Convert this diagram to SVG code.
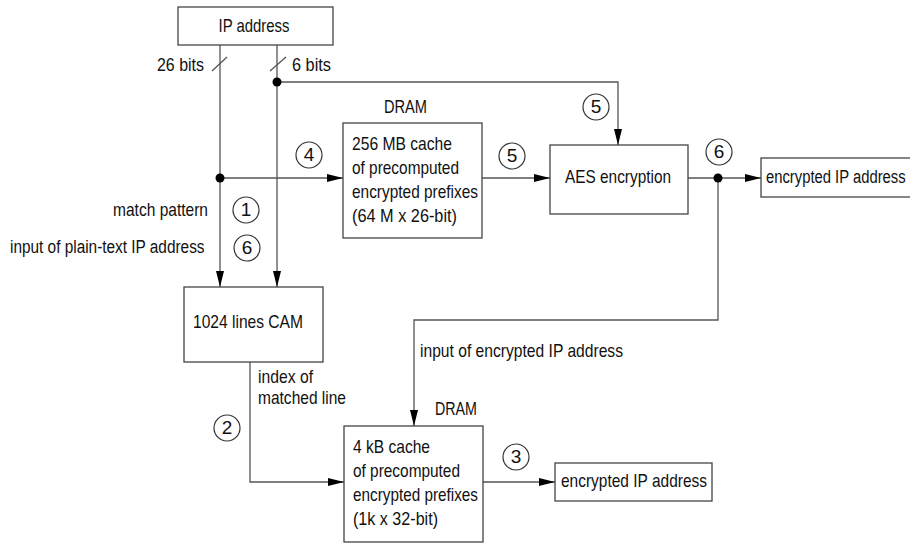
<svg xmlns="http://www.w3.org/2000/svg" width="910" height="543" viewBox="0 0 910 543">
<defs>
<marker id="arr" viewBox="0 0 16 10" refX="16" refY="5" markerWidth="16" markerHeight="10" markerUnits="userSpaceOnUse" orient="auto">
<path d="M0,1 L16,5 L0,9 Z" fill="#000"/>
</marker>
</defs>
<style>
text{font-family:"Liberation Sans Narrow","Liberation Sans",Arial,sans-serif;font-size:19px;fill:#111}
.box{fill:#fff;stroke:#444;stroke-width:1.3}
.ln{fill:none;stroke:#555;stroke-width:1.3}
.ar{marker-end:url(#arr)}
.c{fill:#fff;stroke:#333;stroke-width:1.2}
.dot{fill:#000}
.n{text-anchor:middle}
</style>
<rect width="910" height="543" fill="#fff"/>
<g id="connectors">
<path class="ln ar" d="M220,45 V287"/>
<path class="ln ar" d="M277,45 V287"/>
<path class="ln ar" d="M277,82 H618 V145"/>
<path class="ln ar" d="M220,178 H343"/>
<path class="ln ar" d="M482,178 H550"/>
<path class="ln ar" d="M688,178 H761"/>
<path class="ln ar" d="M718,178 V320 H414 V426"/>
<path class="ln ar" d="M250,362 V482 H344"/>
<path class="ln ar" d="M483,482 H555"/>
<path class="ln" d="M212,71 L227,57"/>
<path class="ln" d="M270,71 L286,57"/>
<circle class="dot" cx="277" cy="82" r="4.5"/>
<circle class="dot" cx="220" cy="178" r="4.5"/>
<circle class="dot" cx="718" cy="178" r="4.5"/>
<text x="157" y="71" textLength="47" lengthAdjust="spacingAndGlyphs">26 bits</text>
<text x="292" y="71" textLength="39" lengthAdjust="spacingAndGlyphs">6 bits</text>
<text x="113" y="216" textLength="95" lengthAdjust="spacingAndGlyphs">match pattern</text>
<text transform="translate(10,253) scale(0.81,1)">input of plain-text IP address</text>
<text x="258" y="383" textLength="55" lengthAdjust="spacingAndGlyphs">index of</text>
<text x="258" y="404" textLength="88" lengthAdjust="spacingAndGlyphs">matched line</text>
<text x="420" y="357" textLength="203" lengthAdjust="spacingAndGlyphs">input of encrypted IP address</text>
</g>
<g id="steps">
<circle class="c" cx="596" cy="107" r="13"/><text class="n" x="596" y="113">5</text>
<circle class="c" cx="309" cy="155" r="13"/><text class="n" x="309" y="161">4</text>
<circle class="c" cx="512" cy="156" r="13"/><text class="n" x="512" y="162">5</text>
<circle class="c" cx="719" cy="152" r="13"/><text class="n" x="719" y="158">6</text>
<circle class="c" cx="246" cy="210" r="13"/><text class="n" x="246" y="216">1</text>
<circle class="c" cx="247" cy="248" r="13"/><text class="n" x="247" y="254">6</text>
<circle class="c" cx="227" cy="428" r="13"/><text class="n" x="227" y="434">2</text>
<circle class="c" cx="516" cy="457" r="13"/><text class="n" x="516" y="463">3</text>
</g>
<g id="ip">
<rect class="box" x="178" y="7" width="155" height="38"/>
<text class="n" x="254" y="32" textLength="71" lengthAdjust="spacingAndGlyphs">IP address</text>
</g>
<g id="cache256">
<text x="384" y="113" textLength="43" lengthAdjust="spacingAndGlyphs">DRAM</text>
<rect class="box" x="343" y="123" width="139" height="115"/>
<text x="352" y="150" textLength="100" lengthAdjust="spacingAndGlyphs">256 MB cache</text>
<text x="352" y="174" textLength="107" lengthAdjust="spacingAndGlyphs">of precomputed</text>
<text x="352" y="198" textLength="126" lengthAdjust="spacingAndGlyphs">encrypted prefixes</text>
<text x="352" y="222" textLength="105" lengthAdjust="spacingAndGlyphs">(64 M x 26-bit)</text>
</g>
<g id="aes">
<rect class="box" x="550" y="145" width="138" height="69"/>
<text x="565" y="183" textLength="106" lengthAdjust="spacingAndGlyphs">AES encryption</text>
</g>
<g id="out1">
<rect class="box" x="761" y="158" width="160" height="39"/>
<text transform="translate(766,183) scale(0.78,1)">encrypted IP address</text>
</g>
<g id="cam">
<rect class="box" x="184" y="287" width="139" height="75"/>
<text x="193" y="328" textLength="110" lengthAdjust="spacingAndGlyphs">1024 lines CAM</text>
</g>
<g id="cache4k">
<text x="435" y="415" textLength="42" lengthAdjust="spacingAndGlyphs">DRAM</text>
<rect class="box" x="344" y="426" width="139" height="116"/>
<text x="353" y="453" textLength="77" lengthAdjust="spacingAndGlyphs">4 kB cache</text>
<text x="353" y="477" textLength="107" lengthAdjust="spacingAndGlyphs">of precomputed</text>
<text x="353" y="501" textLength="125" lengthAdjust="spacingAndGlyphs">encrypted prefixes</text>
<text x="353" y="525" textLength="85" lengthAdjust="spacingAndGlyphs">(1k x 32-bit)</text>
</g>
<g id="out2">
<rect class="box" x="555" y="463" width="157" height="38"/>
<text x="561" y="487" textLength="146" lengthAdjust="spacingAndGlyphs">encrypted IP address</text>
</g>
</svg>
